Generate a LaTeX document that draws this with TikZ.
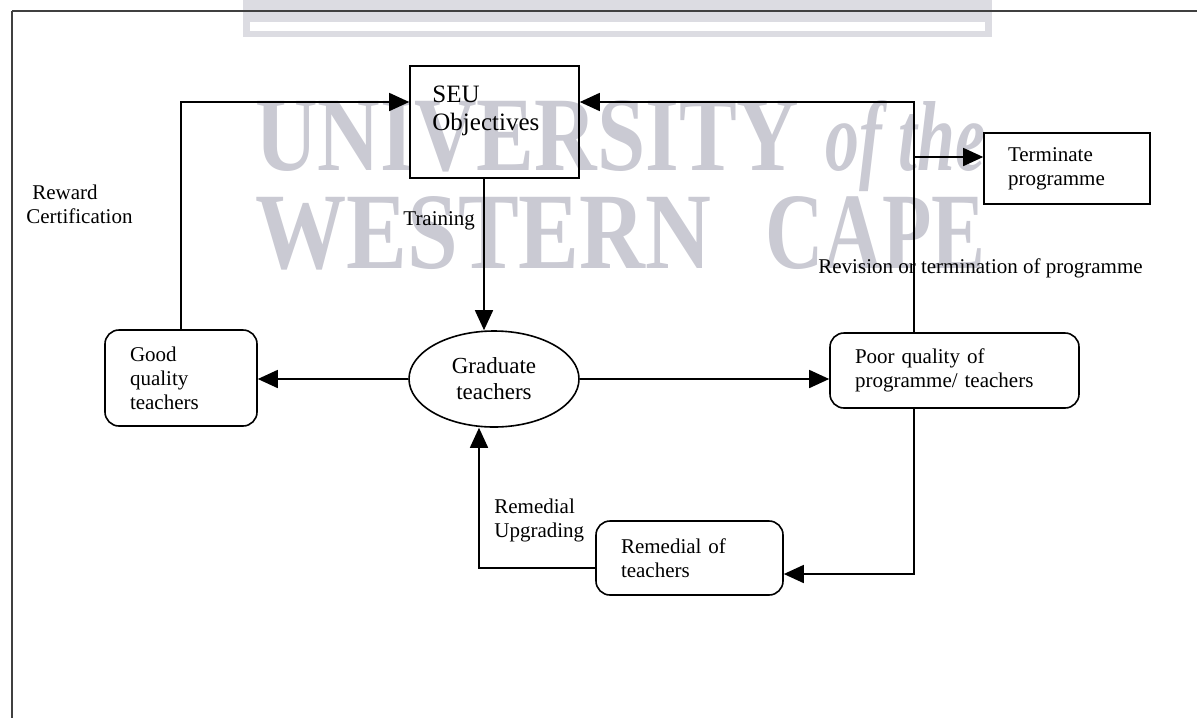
\documentclass[tikz,border=0pt]{standalone}
\usepackage{fontspec}
\setmainfont{Liberation Serif}
\usetikzlibrary{arrows.meta,shapes.geometric,calc}
\definecolor{wmc}{HTML}{CACAD3}
\definecolor{barc}{HTML}{DCDCE2}
\begin{document}
\begin{tikzpicture}[x=0.5pt,y=-0.5pt,
  box/.style={draw,line width=0.8pt,inner ysep=0pt,inner xsep=12.5pt,align=left,font=\fontsize{10.5}{12}\selectfont},
  rbox/.style={box,rounded corners=7pt},
  arr/.style={line width=0.8pt,-{Triangle[length=10pt,width=9pt]}},
  lbl/.style={inner sep=0pt,align=left,font=\fontsize{10.5}{12}\selectfont},
  wm/.style={inner sep=0pt,text=wmc,font=\bfseries}]
\useasboundingbox (0,0) rectangle (1197,718);
% scan background: bar and frame
\fill[barc] (243,0) rectangle (992,37);
\fill[white] (250,22) rectangle (985,31);
\draw[line width=0.8pt,black!75] (12,11) -- (1197,11);
\draw[line width=0.8pt,black!75] (12,11) -- (12,718);
% watermark
\node[wm,anchor=base west] (wm1) at (255,170) {\resizebox{272pt}{35pt}{UNIVERSITY}};
\node[wm,anchor=base west] (wm2) at (825,170) {\resizebox{80pt}{35pt}{\itshape of the}};
\node[wm,anchor=base west] (wm3) at (255,268) {\resizebox{228pt}{36pt}{WESTERN}};
\node[wm,anchor=base west] (wm4) at (765,268) {\resizebox{110pt}{36pt}{CAPE}};
% nodes
\node[draw,line width=0.8pt,minimum width=84.5pt,minimum height=56pt,inner sep=0pt] (seu) at (494.5,122) {};
\node[lbl,anchor=north west,font=\fontsize{12.5}{14}\selectfont] (seuT) at (432,85.5) {SEU\\Objectives};
\node[box,minimum width=83pt,minimum height=35.5pt,text width=59pt,inner xsep=12pt] (term) at (1067,168.5) {Terminate\\programme};
\node[rbox,minimum width=76pt,minimum height=48pt,text width=51pt] (good) at (181,378) {Good\\quality\\teachers};
\node[draw,ellipse,line width=0.8pt,minimum width=85pt,minimum height=48pt,inner sep=0pt,align=center,font=\fontsize{11.5}{13}\selectfont] (grad) at (494,379) {Graduate\\teachers};
\node[rbox,minimum width=124.5pt,minimum height=37.5pt,text width=99.5pt] (poor) at (954.5,370.5) {Poor quality of\\programme/ teachers};
\node[rbox,minimum width=93.5pt,minimum height=37pt,text width=68.5pt] (rem) at (689.5,558) {Remedial of\\teachers};
% labels
\node[lbl,anchor=base west] (train) at (403,225) {Training};
\node[lbl,anchor=north west] (reward) at (26,184.7) {\hspace*{3pt}Reward\\Certification};
\node[lbl,anchor=north west] (remup) at (494,498.7) {Remedial\\Upgrading};
\node[lbl,anchor=base west] (revis) at (818,273) {Revision or termination of programme};
% connectors
\coordinate (vx) at ($(poor.north)+(-40.5,0)$);
\coordinate (tx) at ($(seu.south)+(-10.5,0)$);
\coordinate (bx) at ($(grad.south)+(-15,0)$);
\coordinate (tb) at ($(term.west)+(0,-11.5)$);
\draw[arr] (good.north) |- ($(seu.west)+(0,-20)$);
\draw[arr] (vx) |- ($(seu.east)+(0,-20)$);
\draw[arr] (vx |- tb) -- (tb);
\draw[arr] (tx) -- (tx |- grad.north);
\draw[arr] (grad.west) -- (grad.west -| good.east);
\draw[arr] (grad.east) -- (grad.east -| poor.west);
\draw[arr] (vx |- poor.south) |- ($(rem.east)+(0,16)$);
\draw[arr] ($(rem.west)+(0,10)$) -| (bx);
\end{tikzpicture}
\end{document}
